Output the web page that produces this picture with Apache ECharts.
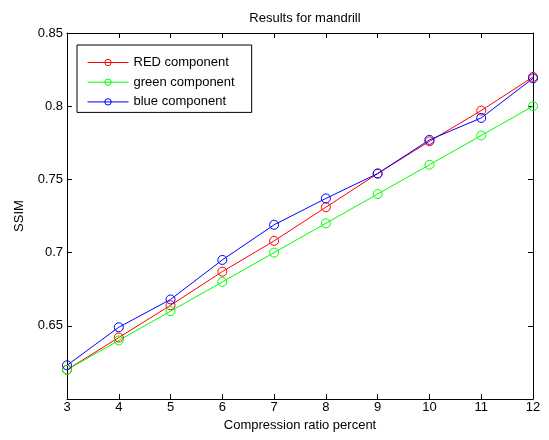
<!DOCTYPE html>
<html>
<head>
<meta charset="utf-8">
<title>Results for mandrill</title>
<script src="https://cdn.jsdelivr.net/npm/echarts@6/dist/echarts.min.js"></script>
<style>
  html, body { margin: 0; padding: 0; background: #fff; }
  #main { width: 549px; height: 440px; }
</style>
</head>
<body>
<div id="main"></div>
<script>
var ratios = [3, 4, 5, 6, 7, 8, 9, 10, 11, 12];
var redVals = [0.620, 0.642, 0.664, 0.687, 0.708, 0.731, 0.754, 0.776, 0.797, 0.820];
var greenVals = [0.620, 0.640, 0.660, 0.680, 0.700, 0.720, 0.740, 0.760, 0.780, 0.800];
var blueVals = [0.623, 0.649, 0.668, 0.695, 0.719, 0.737, 0.754, 0.777, 0.792, 0.819];

var font = 'Liberation Sans';
var fs = 13;

function pairs(vals) {
  return ratios.map(function (x, i) { return [x, vals[i]]; });
}

function makeSeries(name, color, vals) {
  return {
    name: name,
    type: 'line',
    data: pairs(vals),
    symbol: 'circle',
    symbolSize: 9,
    lineStyle: { color: color, width: 1 },
    itemStyle: { color: 'rgba(0,0,0,0)', borderColor: color, borderWidth: 1 }
  };
}

var axisBase = {
  axisLine: { show: true, lineStyle: { color: '#000', width: 1 } },
  axisTick: { show: true, inside: true, length: 5, lineStyle: { color: '#000' } },
  splitLine: { show: false }
};

var chart = echarts.init(document.getElementById('main'));
chart.setOption({
  animation: false,
  backgroundColor: '#fff',
  title: {
    text: 'Results for mandrill',
    left: 300, top: 7,
    textAlign: 'center',
    textStyle: { fontFamily: font, fontSize: fs, fontWeight: 'normal', color: '#000' }
  },
  grid: { left: 67, right: 16, top: 33, bottom: 41 },
  legend: {
    orient: 'vertical',
    left: 77, top: 45,
    padding: [10, 17, 3, 10],
    itemWidth: 41, itemHeight: 8, itemGap: 4.7,
    borderColor: '#000', borderWidth: 1,
    lineStyle: { width: 1 },
    itemStyle: { borderWidth: 1 },
    textStyle: { fontFamily: font, fontSize: fs, lineHeight: 15, color: '#000' },
    data: ['RED component', 'green component', 'blue component']
  },
  xAxis: [
    Object.assign({}, axisBase, {
      type: 'value', min: 3, max: 12, interval: 1, position: 'bottom',
      name: 'Compression ratio percent', nameLocation: 'middle', nameGap: 19,
      nameTextStyle: { fontFamily: font, fontSize: fs, color: '#000' },
      axisLabel: { fontFamily: font, fontSize: fs, color: '#000', margin: 2 }
    }),
    Object.assign({}, axisBase, {
      type: 'value', min: 3, max: 12, interval: 1, position: 'top',
      axisLabel: { show: false }
    })
  ],
  yAxis: [
    Object.assign({}, axisBase, {
      type: 'value', min: 0.6, max: 0.85, interval: 0.05, position: 'left',
      name: 'SSIM', nameLocation: 'middle', nameGap: 41, nameRotate: 90,
      nameTextStyle: { fontFamily: font, fontSize: fs, color: '#000' },
      axisLabel: { fontFamily: font, fontSize: fs, color: '#000', margin: 4, showMinLabel: false }
    }),
    Object.assign({}, axisBase, {
      type: 'value', min: 0.6, max: 0.85, interval: 0.05, position: 'right',
      axisLabel: { show: false }
    })
  ],
  series: [
    makeSeries('RED component', '#ff0000', redVals),
    makeSeries('green component', '#00ff00', greenVals),
    makeSeries('blue component', '#0000ff', blueVals)
  ]
});
</script>
</body>
</html>
